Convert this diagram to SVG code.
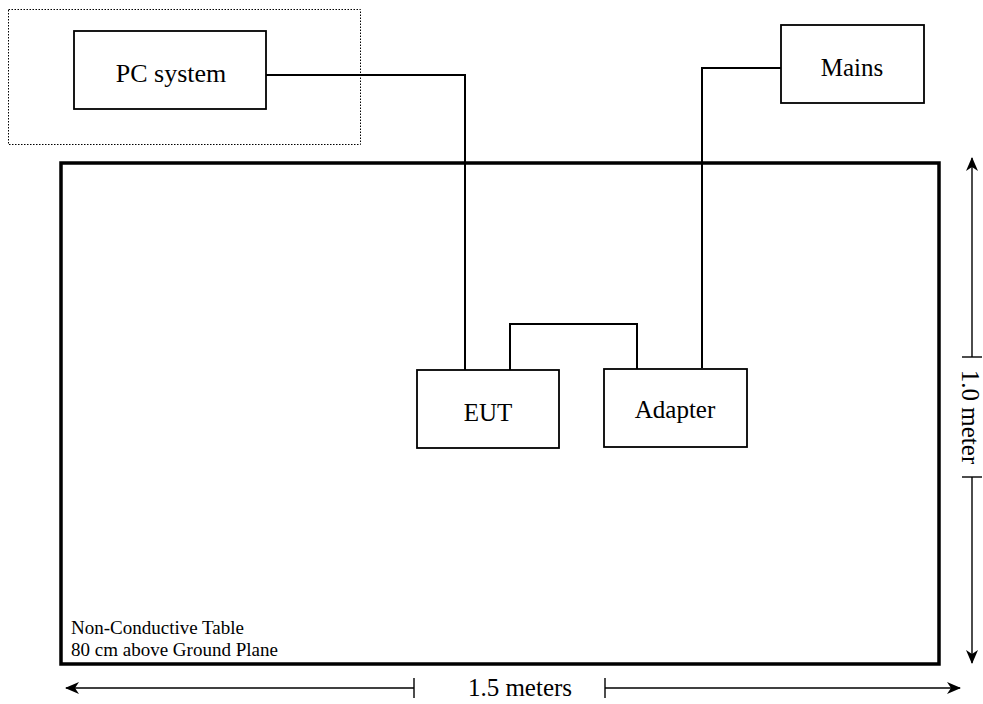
<svg xmlns="http://www.w3.org/2000/svg" width="983" height="704" viewBox="0 0 983 704">
<style>
.box{fill:#fff;stroke:#000;stroke-width:1.8}
.lbl{font-family:'Liberation Serif','Times New Roman',Times,'DejaVu Serif',serif;font-size:25px;fill:#000;text-anchor:middle}
.sm{font-family:'Liberation Serif','Times New Roman',Times,'DejaVu Serif',serif;font-size:19px;fill:#000}
.wire{fill:none;stroke:#000;stroke-width:2}
.dim{fill:none;stroke:#000;stroke-width:1.4}
</style>
<defs>
<marker id="ah" viewBox="0 0 14 12" refX="13" refY="6" markerWidth="14" markerHeight="12" markerUnits="userSpaceOnUse" orient="auto">
<path d="M0,0 L14,6 L0,12 L4,6 Z" fill="#000"/>
</marker>
</defs>
<rect x="8.5" y="9.5" width="352" height="135" fill="none" stroke="#000" stroke-width="1" stroke-dasharray="1.5,1.5"/>
<g id="table">
<rect x="61" y="163" width="878" height="501" fill="none" stroke="#000" stroke-width="3.5"/>
<text class="sm" x="71" y="634">Non-Conductive Table</text>
<text class="sm" x="71" y="656">80 cm above Ground Plane</text>
</g>
<g id="connectors">
<polyline class="wire" points="266,75 465,75 465,370"/>
<polyline class="wire" points="781,68 702,68 702,368"/>
<polyline class="wire" points="510,370 510,324 637,324 637,369"/>
</g>
<g id="pc">
<rect class="box" x="74" y="31" width="192" height="78"/>
<text class="lbl" x="171" y="82" style="font-size:26px">PC system</text>
</g>
<g id="mains">
<rect class="box" x="781" y="25" width="143" height="78"/>
<text class="lbl" x="852" y="76">Mains</text>
</g>
<g id="eut">
<rect class="box" x="417" y="370" width="142" height="78"/>
<text class="lbl" x="488" y="421">EUT</text>
</g>
<g id="adapter">
<rect class="box" x="604" y="369" width="143" height="78"/>
<text class="lbl" x="675" y="418">Adapter</text>
</g>
<g id="dimensions">
<line class="dim" x1="414" y1="688" x2="66" y2="688" marker-end="url(#ah)"/>
<line class="dim" x1="414" y1="678" x2="414" y2="698"/>
<line class="dim" x1="605" y1="688" x2="960" y2="688" marker-end="url(#ah)"/>
<line class="dim" x1="605" y1="678" x2="605" y2="698"/>
<text class="lbl" x="520" y="696">1.5 meters</text>
<line class="dim" x1="972" y1="357" x2="972" y2="158" marker-end="url(#ah)"/>
<line class="dim" x1="962" y1="357" x2="982" y2="357"/>
<line class="dim" x1="972" y1="477" x2="972" y2="663" marker-end="url(#ah)"/>
<line class="dim" x1="962" y1="477" x2="982" y2="477"/>
<text class="lbl" transform="translate(962,417) rotate(90)" x="0" y="0">1.0 meter</text>
</g>
</svg>
